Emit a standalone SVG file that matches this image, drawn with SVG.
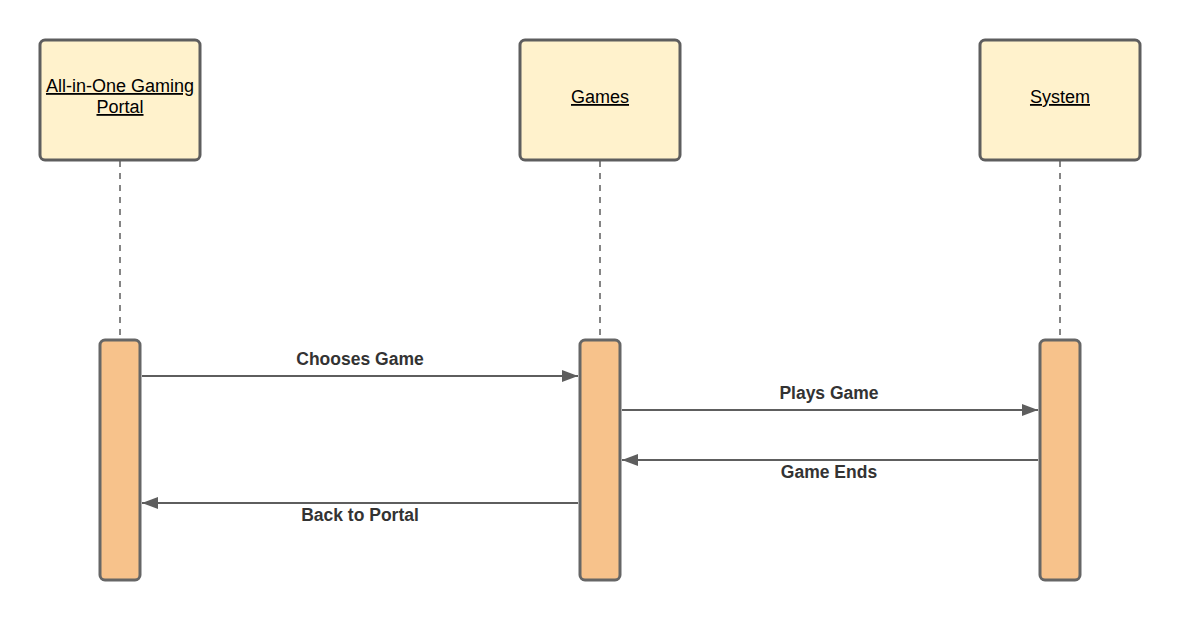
<svg xmlns="http://www.w3.org/2000/svg" width="1180" height="620" viewBox="0 0 1180 620">
<style>
.head{fill:#fff2cc;stroke:#5e5e5e;stroke-width:3}
.act{fill:#f7c28b;stroke:#666;stroke-width:3}
.life{stroke:#5e5e5e;stroke-width:1.5;stroke-dasharray:6,6;fill:none}
.msg{stroke:#5e5e5e;stroke-width:2;fill:none}
.nt{font-family:"Liberation Sans",Arial,sans-serif;font-size:18px;fill:#000;text-anchor:middle;text-decoration:underline}
.ml{font-family:"Liberation Sans",Arial,sans-serif;font-size:17.5px;font-weight:bold;fill:#333;text-anchor:middle}
</style>
<defs>
<marker id="ah" viewBox="0 0 16 12" refX="16" refY="6" markerWidth="16" markerHeight="12" markerUnits="userSpaceOnUse" orient="auto">
<path d="M0,0 L16,6 L0,12 Z" fill="#5e5e5e"/>
</marker>
</defs>
<rect width="1180" height="620" fill="#fff"/>
<g id="lifelines">
<line class="life" x1="120" y1="161" x2="120" y2="340"/>
<line class="life" x1="600" y1="161" x2="600" y2="340"/>
<line class="life" x1="1060" y1="161" x2="1060" y2="340"/>
</g>
<g id="portal">
<rect class="head" x="40" y="40" width="160" height="120" rx="5"/>
<text class="nt" x="120" y="92">All-in-One Gaming</text>
<text class="nt" x="120" y="113">Portal</text>
</g>
<g id="games">
<rect class="head" x="520" y="40" width="160" height="120" rx="5"/>
<text class="nt" x="600" y="103">Games</text>
</g>
<g id="system">
<rect class="head" x="980" y="40" width="160" height="120" rx="5"/>
<text class="nt" x="1060" y="103">System</text>
</g>
<g id="act-portal"><rect class="act" x="100" y="340" width="40" height="240" rx="5"/></g>
<g id="act-games"><rect class="act" x="580" y="340" width="40" height="240" rx="5"/></g>
<g id="act-system"><rect class="act" x="1040" y="340" width="40" height="240" rx="5"/></g>
<g id="connectors">
<line class="msg" x1="142" y1="376" x2="578" y2="376" marker-end="url(#ah)"/>
<line class="msg" x1="622" y1="410" x2="1038" y2="410" marker-end="url(#ah)"/>
<line class="msg" x1="1038" y1="460" x2="622" y2="460" marker-end="url(#ah)"/>
<line class="msg" x1="578" y1="503" x2="142" y2="503" marker-end="url(#ah)"/>
<text class="ml" x="360" y="365">Chooses Game</text>
<text class="ml" x="829" y="399">Plays Game</text>
<text class="ml" x="829" y="478">Game Ends</text>
<text class="ml" x="360" y="521">Back to Portal</text>
</g>
</svg>
